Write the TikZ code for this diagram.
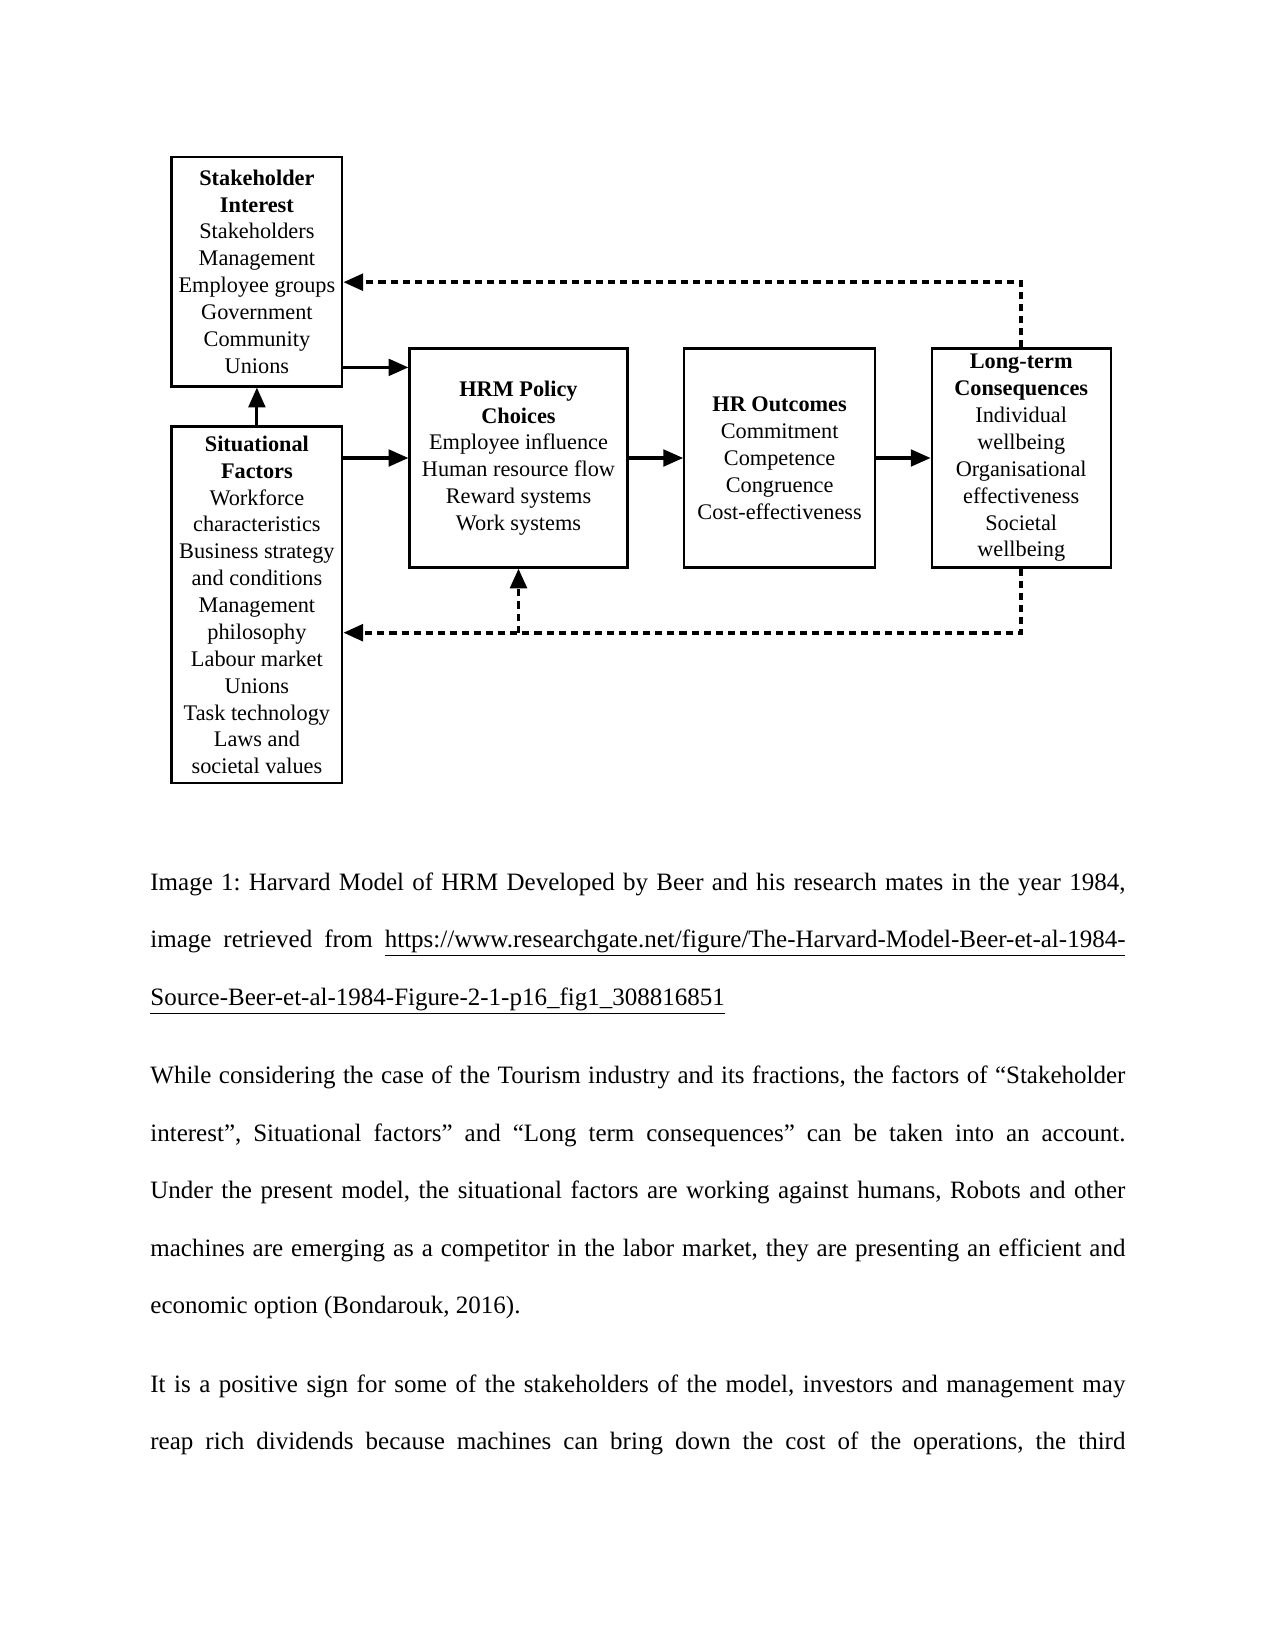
\documentclass[tikz,border=0pt]{standalone}
\usepackage{fontspec}
\setmainfont{Liberation Serif}
\usetikzlibrary{arrows.meta}
\begin{document}
\frenchspacing
\begin{tikzpicture}[x=0.48pt,y=-0.48pt,
  box/.style={draw, line width=1.1pt, align=center, inner sep=0pt,
    font=\fontsize{10.7}{12.9}\selectfont},
  flow/.style={line width=1.5pt, -{Triangle[length=9.5pt,width=8pt]}},
  fb/.style={flow, line width=1.8pt, dash pattern=on 3.4pt off 2.4pt},
  txt/.style={anchor=base west, inner sep=0pt, font=\fontsize{12}{14.4}\selectfont}]
\useasboundingbox[fill=white] (0,0) rectangle (1275,1651);

% boxes
\node[box, minimum width=81.9pt, minimum height=110.2pt] (stake) at (256.9,271.6)
  {\textbf{Stakeholder}\\\textbf{Interest}\\Stakeholders\\Management\\Employee groups\\Government\\Community\\Unions};
\node[box, minimum width=81.9pt, minimum height=171.3pt] (sit) at (256.9,604.9)
  {\textbf{Situational}\\\textbf{Factors}\\Workforce\\characteristics\\Business strategy\\and conditions\\Management\\philosophy\\Labour market\\Unions\\Task technology\\Laws and\\societal values};
\node[box, minimum width=104.6pt, minimum height=105.1pt] (hrm) at (518.5,458)
  {\textbf{HRM Policy}\\\textbf{Choices}\\Employee influence\\Human resource flow\\Reward systems\\Work systems};
\node[box, minimum width=91.5pt, minimum height=105.1pt] (hro) at (779.6,458)
  {\textbf{HR Outcomes}\\Commitment\\Competence\\Congruence\\Cost-effectiveness};
\node[box, minimum width=85.9pt, minimum height=105.1pt] (long) at (1021.2,458)
  {\textbf{Long-term}\\\textbf{Consequences}\\Individual\\wellbeing\\Organisational\\effectiveness\\Societal\\wellbeing};

% solid connectors
\draw[flow] (stake.east |- 0,367.4) -- (hrm.west |- 0,367.4);
\draw[flow] (sit.east |- hrm.west) -- (hrm.west);
\draw[flow] (sit.north) -- (stake.south);
\draw[flow] (hrm.east) -- (hro.west);
\draw[flow] (hro.east) -- (long.west);

% feedback connectors
\coordinate (tr) at (1021.2,282.2);
\coordinate (br) at (1021.2,632.7);
\coordinate (bm) at (518.5,632.7);
\draw[fb] (long.north) -- (tr) -- (stake.east |- tr);
\draw[fb] (long.south) -- (br) -- (sit.east |- br);
\draw[fb] (bm) -- (hrm.south);

% caption
\node[txt] (c1) at (150,890) {\makebox[468pt][s]{Image 1: Harvard Model of HRM Developed by Beer and his research mates in the year 1984,}};
\node[txt] (c2) at (150,947.5) {\makebox[468pt][s]{image retrieved from \underline{https://www.researchgate.net/figure/The-Harvard-Model-Beer-et-al-1984-}}};
\node[txt] (c3) at (150,1005) {\underline{Source-Beer-et-al-1984-Figure-2-1-p16\_fig1\_308816851}};

% body paragraph 1
\node[txt] (p1) at (150,1083) {\makebox[468pt][s]{While considering the case of the Tourism industry and its fractions, the factors of “Stakeholder}};
\node[txt] (p2) at (150,1141) {\makebox[468pt][s]{interest”, Situational factors” and “Long term consequences” can be taken into an account.}};
\node[txt] (p3) at (150,1198) {\makebox[468pt][s]{Under the present model, the situational factors are working against humans, Robots and other}};
\node[txt] (p4) at (150,1256) {\makebox[468pt][s]{machines are emerging as a competitor in the labor market, they are presenting an efficient and}};
\node[txt] (p5) at (150,1313.5) {economic option (Bondarouk, 2016).};

% body paragraph 2
\node[txt] (q1) at (150,1392.5) {\makebox[468pt][s]{It is a positive sign for some of the stakeholders of the model, investors and management may}};
\node[txt] (q2) at (150,1449) {\makebox[468pt][s]{reap rich dividends because machines can bring down the cost of the operations, the third}};
\end{tikzpicture}
\end{document}
